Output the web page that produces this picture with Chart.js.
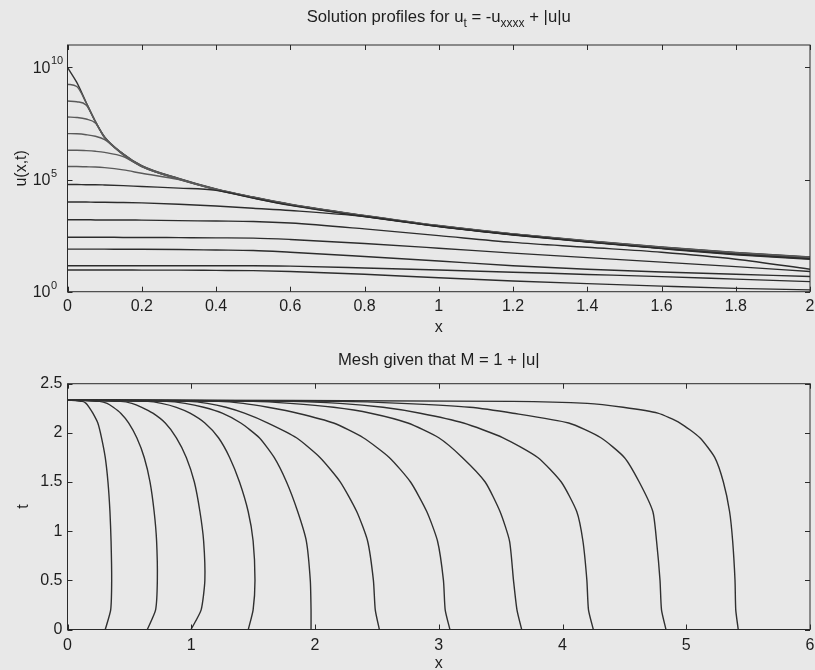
<!DOCTYPE html>
<html>
<head>
<meta charset="utf-8">
<script src="https://cdn.jsdelivr.net/npm/chart.js@4.4.0/dist/chart.umd.min.js"></script>
<style>
  html, body { margin: 0; padding: 0; background: #e8e8e8; }
  #wrap { position: relative; width: 815px; height: 670px; }
  #top { position: absolute; left: 0; top: 0; }
  #bot { position: absolute; left: 0; top: 340px; }
</style>
</head>
<body>
<div id="wrap">
  <canvas id="top" width="815" height="340"></canvas>
  <canvas id="bot" width="815" height="330"></canvas>
</div>
<script>
// ---- top plot: solution profiles, log10(u) ----
var profileX = [0, 0.025, 0.05, 0.075, 0.1, 0.15, 0.2, 0.3, 0.4, 0.5, 0.6, 0.8, 1.0, 1.2, 1.4, 1.6, 1.8, 2.0];
var logU1  = [10.0, 9.33, 8.45, 7.6, 6.9, 6.15, 5.62, 5.05, 4.58, 4.22, 3.9, 3.4, 2.95, 2.58, 2.27, 1.99, 1.75, 1.55];
var logU2  = [9.25, 9.15, 8.43, 7.59, 6.89, 6.14, 5.61, 5.04, 4.57, 4.21, 3.89, 3.39, 2.94, 2.57, 2.26, 1.98, 1.74, 1.54];
var logU3  = [8.5, 8.47, 8.33, 7.58, 6.88, 6.13, 5.6, 5.03, 4.57, 4.21, 3.89, 3.39, 2.94, 2.57, 2.25, 1.97, 1.73, 1.53];
var logU4  = [7.79, 7.77, 7.7, 7.52, 6.86, 6.12, 5.59, 5.03, 4.56, 4.2, 3.88, 3.38, 2.93, 2.56, 2.25, 1.97, 1.72, 1.52];
var logU5  = [7.05, 7.04, 7.0, 6.93, 6.78, 6.1, 5.58, 5.02, 4.56, 4.2, 3.88, 3.38, 2.93, 2.56, 2.24, 1.96, 1.71, 1.51];
var logU6  = [6.31, 6.31, 6.29, 6.26, 6.21, 6.02, 5.58, 5.01, 4.55, 4.19, 3.87, 3.37, 2.92, 2.55, 2.24, 1.95, 1.7, 1.5];
var logU7  = [5.58, 5.58, 5.57, 5.56, 5.53, 5.43, 5.28, 5.0, 4.54, 4.18, 3.86, 3.36, 2.92, 2.55, 2.23, 1.94, 1.69, 1.49];
var logU8  = [4.78, 4.78, 4.77, 4.77, 4.76, 4.73, 4.69, 4.62, 4.52, 4.17, 3.85, 3.35, 2.91, 2.54, 2.22, 1.93, 1.67, 1.47];
var logU9  = [4.0, 4.0, 4.0, 3.99, 3.99, 3.98, 3.96, 3.9, 3.82, 3.72, 3.62, 3.35, 2.9, 2.53, 2.21, 1.92, 1.65, 1.44];
var logU10 = [3.21, 3.21, 3.21, 3.2, 3.2, 3.2, 3.19, 3.17, 3.15, 3.13, 3.06, 2.8, 2.5, 2.2, 1.98, 1.76, 1.45, 1.0];
var logU11 = [2.43, 2.43, 2.43, 2.43, 2.43, 2.42, 2.42, 2.41, 2.4, 2.39, 2.33, 2.15, 1.94, 1.72, 1.52, 1.32, 1.12, 0.9];
var logU12 = [1.9, 1.9, 1.9, 1.9, 1.9, 1.89, 1.89, 1.88, 1.86, 1.84, 1.76, 1.57, 1.37, 1.16, 1.0, 0.88, 0.78, 0.68];
var logU13 = [1.16, 1.16, 1.16, 1.16, 1.16, 1.16, 1.16, 1.16, 1.16, 1.16, 1.14, 1.06, 0.97, 0.87, 0.77, 0.67, 0.56, 0.45];
var logU14 = [0.97, 0.97, 0.97, 0.97, 0.97, 0.97, 0.96, 0.96, 0.95, 0.94, 0.9, 0.78, 0.62, 0.48, 0.36, 0.25, 0.15, 0.08];
var profileYTicks = [1, 1e5, 1e10];
var profileYExp = ['0', '5', '10'];

// ---- bottom plot: mesh point paths x_i(t) ----
var meshT = [0, 0.2, 0.5, 0.9, 1.2, 1.5, 1.75, 1.95, 2.1, 2.2, 2.26, 2.3, 2.32, 2.335];
var meshA = [0.305, 0.349, 0.357, 0.352, 0.343, 0.327, 0.305, 0.275, 0.245, 0.205, 0.175, 0.15, 0.12, 0];
var meshB = [0.645, 0.712, 0.726, 0.72, 0.7, 0.667, 0.62, 0.56, 0.495, 0.43, 0.37, 0.32, 0.26, 0];
var meshC = [0.998, 1.08, 1.11, 1.1, 1.07, 1.025, 0.96, 0.88, 0.79, 0.69, 0.6, 0.52, 0.43, 0];
var meshD = [1.461, 1.5, 1.515, 1.5, 1.46, 1.39, 1.31, 1.22, 1.11, 0.99, 0.88, 0.76, 0.65, 0];
var meshE = [1.968, 1.968, 1.962, 1.93, 1.86, 1.77, 1.67, 1.55, 1.4, 1.25, 1.1, 0.95, 0.8, 0];
var meshF = [2.52, 2.487, 2.472, 2.425, 2.337, 2.205, 2.04, 1.85, 1.62, 1.43, 1.28, 1.13, 0.98, 0];
var meshG = [3.09, 3.052, 3.038, 2.99, 2.903, 2.772, 2.6, 2.39, 2.15, 1.86, 1.62, 1.42, 1.22, 0];
var meshH = [3.67, 3.632, 3.604, 3.572, 3.495, 3.375, 3.19, 3.0, 2.75, 2.45, 2.15, 1.8, 1.5, 0];
var meshI = [4.249, 4.21, 4.197, 4.165, 4.115, 3.99, 3.8, 3.52, 3.2, 2.85, 2.55, 2.2, 1.8, 0];
var meshJ = [4.836, 4.8, 4.788, 4.76, 4.73, 4.62, 4.5, 4.31, 4.05, 3.6, 3.25, 2.7, 2.2, 0];
var meshK = [5.42, 5.4, 5.394, 5.375, 5.35, 5.3, 5.23, 5.11, 4.95, 4.77, 4.49, 4.2, 3.6, 0];

var FONT = 'Liberation Sans, Arial, Helvetica, sans-serif';
Chart.defaults.font.family = FONT;
Chart.defaults.font.size = 16;
Chart.defaults.color = '#1e1e1e';

// plain matlab style numbers: 1 not 1.0
function plainTick(v) {
    return String(+Number(v).toFixed(3));
}

// keep the end labels from pushing the plot box in
function fixXAxis(h) {
    return function(s) {
        s.height = h;
        s.paddingLeft = 0;
        s.paddingRight = 0;
    };
}

// box round the axes with inward ticks on all four sides
var frameTicks = {
    id: 'frameTicks',
    afterDraw: function(chart) {
        var ctx = chart.ctx, a = chart.chartArea;
        var sx = chart.scales.x, sy = chart.scales.y;
        var len = 5;
        ctx.save();
        ctx.strokeStyle = '#2a2a2a';
        ctx.lineWidth = 1;
        ctx.strokeRect(a.left, a.top, a.right - a.left, a.bottom - a.top);
        ctx.beginPath();
        sx.ticks.forEach(function(t) {
            var p = Math.round(sx.getPixelForValue(t.value)) + 0.5;
            ctx.moveTo(p, a.bottom); ctx.lineTo(p, a.bottom - len);
            ctx.moveTo(p, a.top); ctx.lineTo(p, a.top + len);
        });
        sy.ticks.forEach(function(t) {
            var p = Math.round(sy.getPixelForValue(t.value)) + 0.5;
            ctx.moveTo(a.left, p); ctx.lineTo(a.left + len, p);
            ctx.moveTo(a.right, p); ctx.lineTo(a.right - len, p);
        });
        ctx.stroke();
        ctx.restore();
    }
};

// 10^n labels for the log axis, exponent drawn raised and smaller
var powerLabels = {
    id: 'powerLabels',
    afterDraw: function(chart, args, opts) {
        if (!opts.on) return;
        var ctx = chart.ctx, sy = chart.scales.y;
        var baseRight = chart.chartArea.left - 17;
        ctx.save();
        ctx.fillStyle = '#1e1e1e';
        ctx.textBaseline = 'middle';
        profileYTicks.forEach(function(v, i) {
            var p = sy.getPixelForValue(v);
            ctx.font = '16px ' + FONT;
            ctx.textAlign = 'right';
            ctx.fillText('10', baseRight, p + 1);
            ctx.font = '11px ' + FONT;
            ctx.textAlign = 'left';
            ctx.fillText(profileYExp[i], baseRight + 0.5, p - 6);
        });
        ctx.restore();
    }
};

// title with subscripts
var richTitle = {
    id: 'richTitle',
    afterDraw: function(chart, args, opts) {
        var ctx = chart.ctx, a = chart.chartArea;
        var main = '16.7px ' + FONT, sub = '12px ' + FONT;
        ctx.save();
        ctx.fillStyle = '#1e1e1e';
        ctx.textBaseline = 'alphabetic';
        var total = 0;
        opts.parts.forEach(function(p) {
            ctx.font = p[1] ? sub : main;
            total += ctx.measureText(p[0]).width;
        });
        var x = (a.left + a.right) / 2 - total / 2;
        opts.parts.forEach(function(p) {
            ctx.font = p[1] ? sub : main;
            ctx.fillText(p[0], x, opts.y + (p[1] ? 5 : 0));
            x += ctx.measureText(p[0]).width;
        });
        ctx.restore();
    }
};

function profileSet(vals, color) {
    return {
        data: profileX.map(function(x, i) { return {x: x, y: Math.pow(10, vals[i])}; }),
        borderColor: color,
        borderWidth: 1.4,
        pointRadius: 0,
        cubicInterpolationMode: 'monotone',
        fill: false
    };
}

function meshSet(xs) {
    return {
        data: meshT.map(function(t, i) { return {x: xs[i], y: t}; }),
        borderColor: '#303030',
        borderWidth: 1.4,
        pointRadius: 0,
        tension: 0.2,
        fill: false
    };
}

var light = '#5a5a5a', dark = '#2c2c2c';
var topSets = [
    profileSet(logU14, dark), profileSet(logU13, dark), profileSet(logU12, dark),
    profileSet(logU11, dark), profileSet(logU10, dark), profileSet(logU9, dark),
    profileSet(logU8, dark), profileSet(logU7, light), profileSet(logU6, light),
    profileSet(logU5, light), profileSet(logU4, light), profileSet(logU3, light),
    profileSet(logU2, light), profileSet(logU1, '#333333')
];

new Chart(document.getElementById('top'), {
    type: 'line',
    data: { datasets: topSets },
    options: {
        responsive: false,
        animation: false,
        layout: { padding: { left: 0, right: 5, top: 45, bottom: 0 } },
        plugins: {
            legend: { display: false },
            tooltip: { enabled: false },
            powerLabels: { on: true },
            richTitle: {
                y: 22,
                parts: [['Solution profiles for u', false], ['t', true], [' = -u', false],
                        ['xxxx', true], [' + |u|u', false]]
            }
        },
        scales: {
            x: {
                type: 'linear', min: 0, max: 2,
                ticks: { stepSize: 0.2, padding: 5, maxRotation: 0, callback: plainTick },
                grid: { display: false, drawTicks: false },
                border: { display: false },
                title: { display: true, text: 'x', font: { lineHeight: 1 }, padding: { top: 0, bottom: 4 } },
                afterFit: fixXAxis(48.3)
            },
            y: {
                type: 'logarithmic', min: 1, max: 1e11,
                afterBuildTicks: function(s) {
                    s.ticks = profileYTicks.map(function(v) { return {value: v}; });
                },
                ticks: { display: false },
                grid: { display: false, drawTicks: false },
                border: { display: false },
                title: { display: true, text: 'u(x,t)', font: { lineHeight: 1 }, padding: { top: 14, bottom: 0 } },
                afterFit: function(s) { s.width = 67.5; }
            }
        }
    },
    plugins: [frameTicks, powerLabels, richTitle]
});

new Chart(document.getElementById('bot'), {
    type: 'line',
    data: {
        datasets: [meshA, meshB, meshC, meshD, meshE, meshF, meshG, meshH, meshI, meshJ, meshK].map(meshSet)
    },
    options: {
        responsive: false,
        animation: false,
        layout: { padding: { left: 0, right: 5, top: 43.7, bottom: 0 } },
        plugins: {
            legend: { display: false },
            tooltip: { enabled: false },
            powerLabels: { on: false },
            richTitle: { y: 25, parts: [['Mesh given that M = 1 + |u|', false]] }
        },
        scales: {
            x: {
                type: 'linear', min: 0, max: 6,
                ticks: { stepSize: 1, padding: 6, maxRotation: 0, callback: plainTick },
                grid: { display: false, drawTicks: false },
                border: { display: false },
                title: { display: true, text: 'x', font: { lineHeight: 1 }, padding: { top: 0, bottom: -2 } },
                afterFit: fixXAxis(40.5)
            },
            y: {
                type: 'linear', min: 0, max: 2.5,
                ticks: { stepSize: 0.5, padding: 5, callback: plainTick },
                grid: { display: false, drawTicks: false },
                border: { display: false },
                title: { display: true, text: 't', font: { lineHeight: 1 }, padding: { top: 16, bottom: 0 } },
                afterFit: function(s) { s.width = 67.5; }
            }
        }
    },
    plugins: [frameTicks, powerLabels, richTitle]
});
</script>
</body>
</html>
